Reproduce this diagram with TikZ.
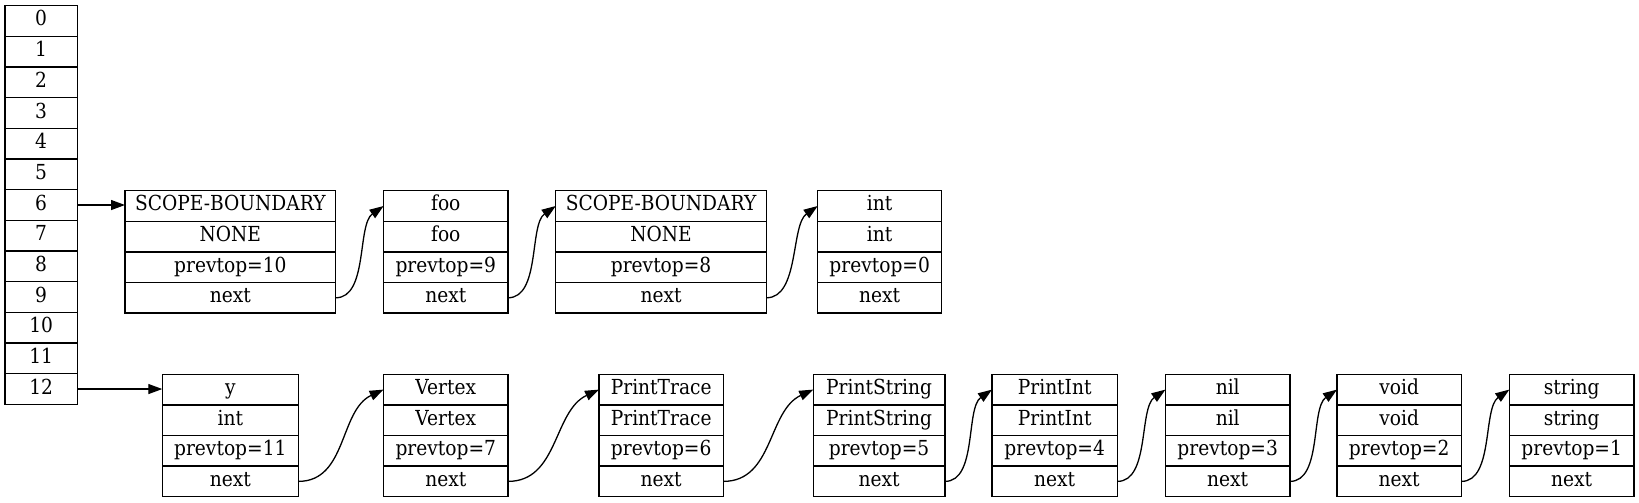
\documentclass[tikz,border=0pt]{standalone}
\usepackage{fontspec}
\setmainfont{DejaVu Serif}[FakeStretch=0.9]
\usetikzlibrary{arrows.meta}
\usetikzlibrary{positioning}
\tikzset{cell/.style={draw, line width=1.3pt, outer sep=0pt, inner sep=0pt,
  minimum width=72.3pt, minimum height=30.67pt, text height=1em, text depth=0pt}}
\tikzset{field/.style={draw, line width=1.3pt, outer sep=0pt, inner sep=0pt,
  minimum width=#1, minimum height=30.6pt, text height=1em, text depth=0pt}}
\tikzset{link/.style={-{Triangle[length=14pt,width=10pt]}, line width=1.3pt}}
\tikzset{up/.style={out=0, in=-145, looseness=0.8}}
\tikzset{upfar/.style={out=0, in=-155, looseness=1}}

\begin{document}
\begin{tikzpicture}[x=1pt, y=1pt, font=\fontsize{20.7}{24}\selectfont]
   \useasboundingbox (0,0) rectangle (1639,503);

   % the table of slots
   \foreach \i in {0,...,12}
      \node[cell] (c\i) at (41.15,{482-30.67*\i}) {\i};

   % upper chain
   \node[field=210.7pt] (sb1a) at (230.35,297) {SCOPE-BOUNDARY};
   \node[field=210.7pt, below=0pt of sb1a] (sb1b) {NONE};
   \node[field=210.7pt, below=0pt of sb1b] (sb1c) {prevtop=10};
   \node[field=210.7pt, below=0pt of sb1c] (sb1d) {next};

   \node[field=124.4pt] (fooa) at (445.8,297) {foo};
   \node[field=124.4pt, below=0pt of fooa] (foob) {foo};
   \node[field=124.4pt, below=0pt of foob] (fooc) {prevtop=9};
   \node[field=124.4pt, below=0pt of fooc] (food) {next};

   \node[field=210.7pt] (sb2a) at (661.1,297) {SCOPE-BOUNDARY};
   \node[field=210.7pt, below=0pt of sb2a] (sb2b) {NONE};
   \node[field=210.7pt, below=0pt of sb2b] (sb2c) {prevtop=8};
   \node[field=210.7pt, below=0pt of sb2c] (sb2d) {next};

   \node[field=124pt] (inta) at (879.7,297) {int};
   \node[field=124pt, below=0pt of inta] (intb) {int};
   \node[field=124pt, below=0pt of intb] (intc) {prevtop=0};
   \node[field=124pt, below=0pt of intc] (intd) {next};

   % lower chain
   \node[field=136pt] (ya) at (230.3,113.4) {y};
   \node[field=136pt, below=0pt of ya] (yb) {int};
   \node[field=136pt, below=0pt of yb] (yc) {prevtop=11};
   \node[field=136pt, below=0pt of yc] (yd) {next};

   \node[field=124.4pt] (vertexa) at (445.8,113.4) {Vertex};
   \node[field=124.4pt, below=0pt of vertexa] (vertexb) {Vertex};
   \node[field=124.4pt, below=0pt of vertexb] (vertexc) {prevtop=7};
   \node[field=124.4pt, below=0pt of vertexc] (vertexd) {next};

   \node[field=124.3pt] (tracea) at (661.2,113.4) {PrintTrace};
   \node[field=124.3pt, below=0pt of tracea] (traceb) {PrintTrace};
   \node[field=124.3pt, below=0pt of traceb] (tracec) {prevtop=6};
   \node[field=124.3pt, below=0pt of tracec] (traced) {next};

   \node[field=131.8pt] (pstra) at (879.1,113.4) {PrintString};
   \node[field=131.8pt, below=0pt of pstra] (pstrb) {PrintString};
   \node[field=131.8pt, below=0pt of pstrb] (pstrc) {prevtop=5};
   \node[field=131.8pt, below=0pt of pstrc] (pstrd) {next};

   \node[field=125.4pt] (pinta) at (1054.7,113.4) {PrintInt};
   \node[field=125.4pt, below=0pt of pinta] (pintb) {PrintInt};
   \node[field=125.4pt, below=0pt of pintb] (pintc) {prevtop=4};
   \node[field=125.4pt, below=0pt of pintc] (pintd) {next};

   \node[field=124.5pt] (nila) at (1227.7,113.4) {nil};
   \node[field=124.5pt, below=0pt of nila] (nilb) {nil};
   \node[field=124.5pt, below=0pt of nilb] (nilc) {prevtop=3};
   \node[field=124.5pt, below=0pt of nilc] (nild) {next};

   \node[field=124.4pt] (voida) at (1399.2,113.4) {void};
   \node[field=124.4pt, below=0pt of voida] (voidb) {void};
   \node[field=124.4pt, below=0pt of voidb] (voidc) {prevtop=2};
   \node[field=124.4pt, below=0pt of voidc] (voidd) {next};

   \node[field=124.7pt] (stra) at (1571.7,113.4) {string};
   \node[field=124.7pt, below=0pt of stra] (strb) {string};
   \node[field=124.7pt, below=0pt of strb] (strc) {prevtop=1};
   \node[field=124.7pt, below=0pt of strc] (strd) {next};

   % pointers
   \draw[link] (c6.east) -- (c6.east -| sb1a.west);
   \draw[link] (c12.east) -- (c12.east -| ya.west);

   \draw[link] (sb1d.east) to[up] (fooa.west);
   \draw[link] (food.east) to[up] (sb2a.west);
   \draw[link] (sb2d.east) to[up] (inta.west);

   \draw[link] (yd.east) to[upfar] (vertexa.west);
   \draw[link] (vertexd.east) to[upfar] (tracea.west);
   \draw[link] (traced.east) to[upfar] (pstra.west);
   \draw[link] (pstrd.east) to[up] (pinta.west);
   \draw[link] (pintd.east) to[up] (nila.west);
   \draw[link] (nild.east) to[up] (voida.west);
   \draw[link] (voidd.east) to[up] (stra.west);
\end{tikzpicture}
\end{document}
